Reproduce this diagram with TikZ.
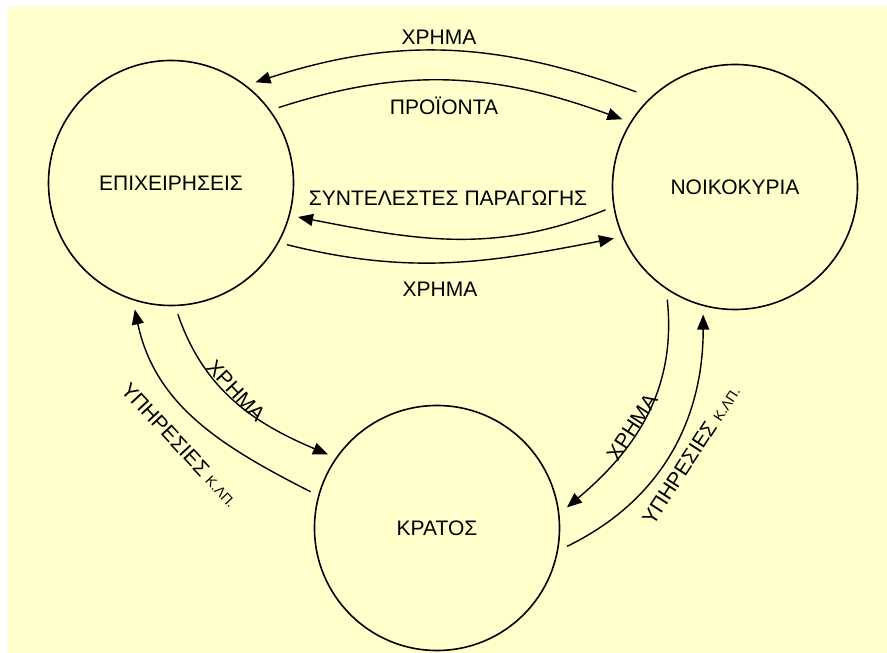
\documentclass[tikz,border=0pt]{standalone}
\usepackage{fontspec}
\setmainfont{Liberation Sans}
\usetikzlibrary{arrows.meta}
\definecolor{paper}{HTML}{FFFFCC}

\begin{document}
\begin{tikzpicture}[x = 1pt, y = 1pt,
    sector/.style = {draw, circle, line width = 1.6pt, minimum size = 245pt, inner sep = 0pt, outer sep = 9pt, font = \fontsize{21}{25}\selectfont},
    flow/.style = {-{Triangle[length = 15pt, width = 12pt]}, line width = 1.4pt},
    tag/.style = {inner sep = 0pt, font = \fontsize{21}{25}\selectfont}]

    \fill [paper] (8, 0) rectangle (887, 646);
    \useasboundingbox (0, 0) rectangle (887, 653);

    \node (firms) [sector] at (171, 470) {ΕΠΙΧΕΙΡΗΣΕΙΣ};
    \node (homes) [sector] at (735, 466) {ΝΟΙΚΟΚΥΡΙΑ};
    \node (state) [sector] at (437, 125) {ΚΡΑΤΟΣ};

    % top pair
    \draw [flow, shorten <= 6pt] (homes.135) to [out = 160, in = 18] (firms.50);
    \draw [flow] (firms.35) to [out = 18, in = 160] (homes.149);
    \node (moneyup) [tag] at (439, 616) {ΧΡΗΜΑ};
    \node (goods) [tag] at (444, 547) {ΠΡΟΪΟΝΤΑ};

    % middle pair
    \draw [flow] (homes.190) to [out = 202, in = -11] (firms.-15);
    \draw [flow] (firms.-28) to [out = -14, in = 191] (homes.203);
    \node (factors) [tag] at (448, 455) {ΣΥΝΤΕΛΕΣΤΕΣ ΠΑΡΑΓΩΓΗΣ};
    \node (moneymid) [tag] at (440, 364) {ΧΡΗΜΑ};

    % left pair
    \draw [flow] (firms.-87) to [out = -71, in = 157] (state.146);
    \draw [flow] (state.164) to [out = 153, in = -78] (firms.254);
    \node (moneyleft) [tag, rotate = -47] at (236, 262) {ΧΡΗΜΑ};
    \node (servleft) [tag, rotate = -47] at (180, 208) {ΥΠΗΡΕΣΙΕΣ {\fontsize{14}{16}\selectfont Κ.ΛΠ.}};

    % right pair
    \draw [flow] (homes.239) to [out = -84, in = 40] (state.9);
    \draw [flow] (state.-8) to [out = 26, in = -90] (homes.256);
    \node (moneyright) [tag, rotate = 57] at (632, 226) {ΧΡΗΜΑ};
    \node (servright) [tag, rotate = 57] at (691, 198) {ΥΠΗΡΕΣΙΕΣ {\fontsize{14}{16}\selectfont Κ.ΛΠ.}};

\end{tikzpicture}
\end{document}
